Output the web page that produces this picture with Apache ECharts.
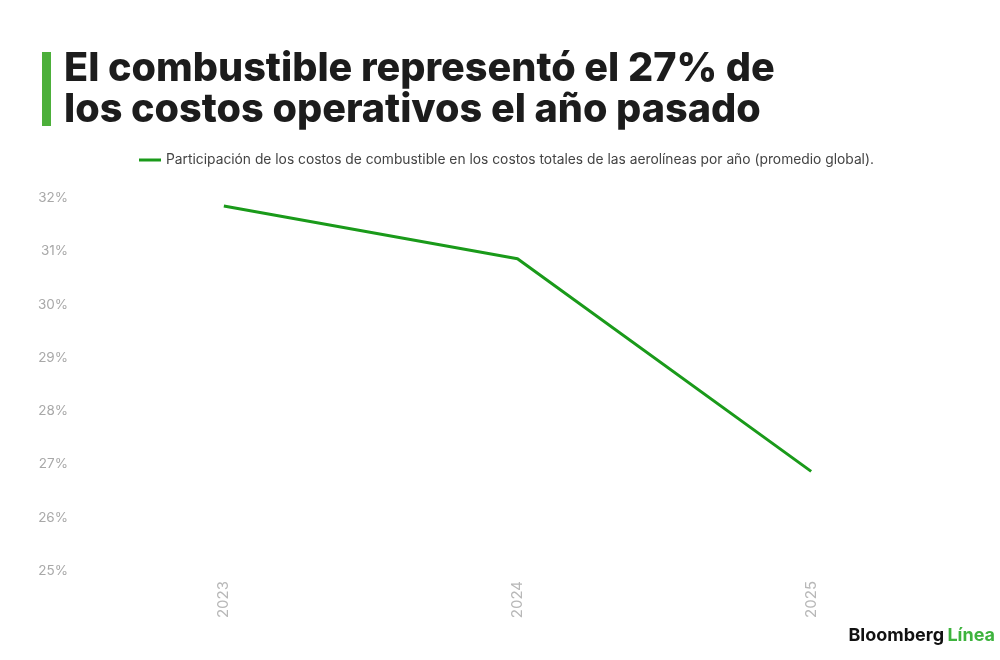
<!DOCTYPE html>
<html><head><meta charset="utf-8">
<script src="https://cdn.jsdelivr.net/npm/echarts@6/dist/echarts.min.js"></script>
<style>html,body{margin:0;padding:0;background:#fff;}#c{width:1000px;height:660px;}</style>
</head><body><div id="c"></div>
<script>
const titleLines = ['El combustible representó el 27% de', 'los costos operativos el año pasado'];
const seriesName = 'Participación de los costos de combustible en los costos totales de las aerolíneas por año (promedio global).';
const categories = ['2023', '2024', '2025'];
const fuelShare = [31.85, 30.86, 26.87];
const yMin = 25, yMax = 32, yStep = 1;

const chart = echarts.init(document.getElementById('c'));
chart.setOption({
  backgroundColor: '#ffffff',
  animation: false,
  title: {
    text: titleLines.join('\n'),
    left: 59, top: 44,
    textStyle: { fontFamily: 'Inter', fontWeight: 800, fontSize: 39.6, lineHeight: 41, color: '#1c1c1c' }
  },
  graphic: [
    { type: 'rect', shape: { x: 42, y: 52, width: 9, height: 74 }, style: { fill: '#4caf3a' } },
    { type: 'text', right: 5, top: 627, style: {
        rich: {
          a: { fontFamily: 'Inter', fontWeight: 'bold', fontSize: 18, fill: '#111' },
          b: { fontFamily: 'Inter', fontWeight: 'bold', fontSize: 18, fill: '#3db33d' }
        },
        text: '{a|Bloomberg} {b|Línea}'
    } }
  ],
  legend: {
    top: 148, left: 134,
    itemWidth: 22, itemHeight: 3, itemGap: 8,
    icon: 'rect',
    textStyle: { fontFamily: 'Inter', fontSize: 13.8, color: '#444' },
    data: [seriesName]
  },
  grid: { left: 77, right: 42, top: 198, bottom: 89 },
  xAxis: {
    type: 'category', data: categories, boundaryGap: true,
    axisLine: { show: false }, axisTick: { show: false },
    axisLabel: { rotate: 90, margin: 10, color: '#b8b8b8', fontFamily: 'Inter', fontSize: 15 }
  },
  yAxis: {
    type: 'value', min: yMin, max: yMax, interval: yStep,
    splitLine: { show: false }, axisLine: { show: false }, axisTick: { show: false },
    axisLabel: { formatter: '{value}%', color: '#a8a8a8', fontFamily: 'Inter', fontSize: 13.5, margin: 9 }
  },
  series: [{
    name: seriesName, type: 'line', data: fuelShare,
    symbol: 'none', lineStyle: { color: '#1a9a1a', width: 3 }, itemStyle: { color: '#1a9a1a' }
  }]
});
</script></body></html>
